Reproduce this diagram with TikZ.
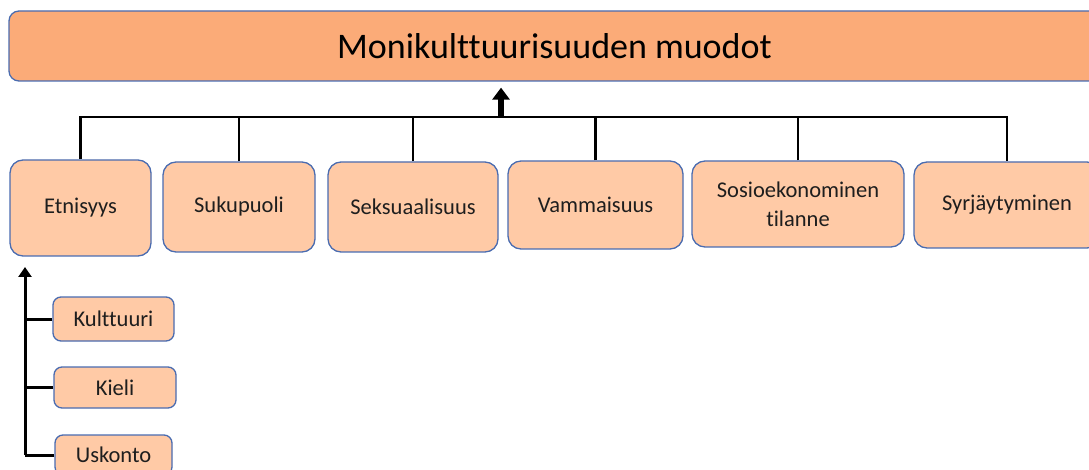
\documentclass[tikz,border=0pt]{standalone}
\usepackage{fontspec}
\setmainfont{Carlito}[Ligatures=NoCommon]
\usepackage{tikz}
\usetikzlibrary{arrows,arrows.meta,positioning,calc}
\definecolor{topfill}{HTML}{FBAB78}
\definecolor{boxfill}{HTML}{FFCAA6}
\definecolor{boxline}{HTML}{4A6CB0}
\definecolor{txt}{HTML}{1E1E1E}
\begin{document}
\begin{tikzpicture}[x=1pt,y=-1pt,
  mainbox/.style={draw=boxline,line width=1.3pt,fill=topfill,rounded corners=10pt,
    minimum width=1091pt,minimum height=70pt,inner sep=0pt,
    font=\fontsize{36}{40}\selectfont},
  formbox/.style={draw=boxline,line width=1.3pt,fill=boxfill,rounded corners=13pt,
    inner sep=0pt,align=center,text=txt,font=\fontsize{22.5}{29}\selectfont},
  subbox/.style={draw=boxline,line width=1.3pt,fill=boxfill,rounded corners=8pt,
    inner sep=0pt,text=txt,font=\fontsize{22.5}{27}\selectfont},
  link/.style={line width=2.6pt},
  uparrow/.style={-{Triangle[length=12pt,width=17pt]},line width=5.5pt}]
\useasboundingbox (0,0) rectangle (1089,470);
\clip (0,0) rectangle (1089,470);
\node[mainbox] (top) at (554.5,46) {Monikulttuurisuuden muodot};
\node[formbox,minimum width=141pt,minimum height=96pt] (etn) at (80.5,208) {Etnisyys};
\node[formbox,minimum width=152pt,minimum height=90pt] (suk) at (239,207) {Sukupuoli};
\node[formbox,minimum width=170pt,minimum height=90pt] (sek) at (413,207) {Seksuaalisuus};
\node[formbox,minimum width=175pt,minimum height=88pt] (vam) at (595.5,205) {Vammaisuus};
\node[formbox,minimum width=212pt,minimum height=86pt] (sos) at (798,204) {Sosioekonominen\\tilanne};
\node[formbox,minimum width=186pt,minimum height=86pt] (syr) at (1007,205) {Syrjäytyminen};
\node[subbox,minimum width=121pt,minimum height=44pt] (kul) at (113.5,319) {Kulttuuri};
\node[subbox,minimum width=122pt,minimum height=41pt] (kie) at (115,387.5) {Kieli};
\node[subbox,minimum width=117pt,minimum height=40pt] (usk) at (113.5,455) {Uskonto};
\coordinate (bus) at (501,117);
\coordinate (spine) at (25,267);
\draw[link] (etn.north) -- (etn.north |- bus) -- (syr.north |- bus) -- (syr.north);
\foreach \n in {suk,sek,vam,sos}
  \draw[line width=2.3pt] (\n.north) -- (\n.north |- bus);
\draw[uparrow] (bus) -- ($(bus |- top.south)+(0,6)$);
\draw[-{Triangle[length=10pt,width=13pt]},line width=3pt] (usk.west -| spine) -- (spine);
\foreach \n in {kul,kie,usk}
  \draw[line width=3pt] (\n.west) -- (\n.west -| spine);
\end{tikzpicture}
\end{document}
